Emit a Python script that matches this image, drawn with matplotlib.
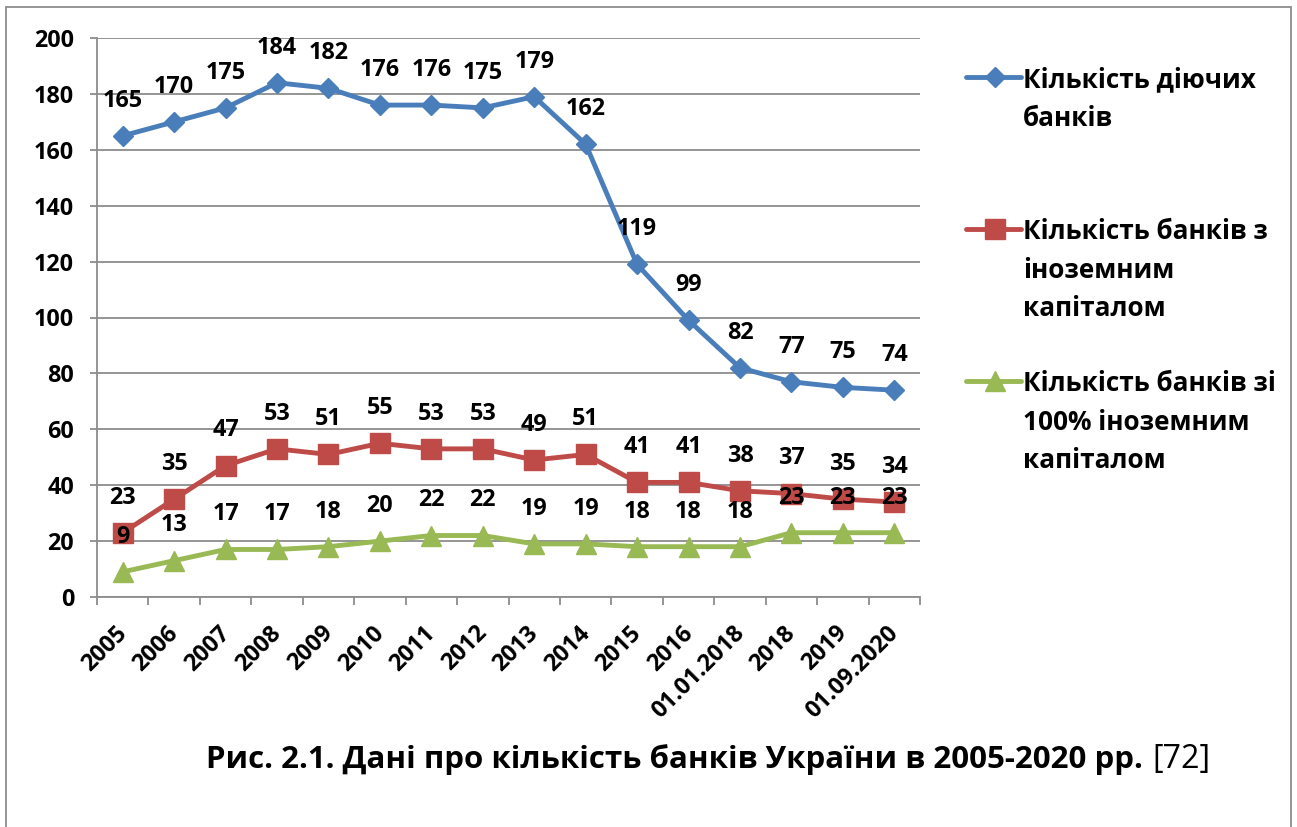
import matplotlib
matplotlib.use("Agg")
import matplotlib.pyplot as plt
from matplotlib.patches import Rectangle
from matplotlib.lines import Line2D
from matplotlib.transforms import ScaledTranslation
import numpy as np

plt.rcParams['font.family'] = ['Open Sans', 'DejaVu Sans']

categories = ["2005", "2006", "2007", "2008", "2009", "2010", "2011", "2012",
              "2013", "2014", "2015", "2016", "01.01.2018", "2018", "2019", "01.09.2020"]
active_banks = [165, 170, 175, 184, 182, 176, 176, 175, 179, 162, 119, 99, 82, 77, 75, 74]
foreign_banks = [23, 35, 47, 53, 51, 55, 53, 53, 49, 51, 41, 41, 38, 37, 35, 34]
full_foreign_banks = [9, 13, 17, 17, 18, 20, 22, 22, 19, 19, 18, 18, 18, 23, 23, 23]
series_names = ["Кількість діючих\nбанків",
                "Кількість банків з\nіноземним\nкапіталом",
                "Кількість банків зі\n100% іноземним\nкапіталом"]
y_ticks = [0, 20, 40, 60, 80, 100, 120, 140, 160, 180, 200]
caption = "Рис. 2.1. Дані про кількість банків України в 2005-2020 рр."
caption_ref = "[72]"

colors = ["#4A7EBB", "#BE4B48", "#98B954"]
markers = ["D", "s", "^"]
msizes = [10, 14, 14]
LW = 3.5

W, H = 1297, 827
fig = plt.figure(figsize=(W / 100, H / 100), dpi=100)
fig.patch.set_facecolor("white")
renderer = fig.canvas.get_renderer()


def fit_size(s, target_px, weight="bold", base=20.0):
    t = fig.text(0, 0, s, fontsize=base, fontweight=weight)
    w = t.get_window_extent(renderer).width
    t.remove()
    return base * target_px / w


num_fs = fit_size("200", 40)
leg_fs = fit_size("Кількість діючих", 232)
cap_fs = fit_size(caption, 934)
ref_fs = fit_size(caption_ref, 58, weight="normal")

# outer frame
fig.add_artist(Rectangle((6 / W, -0.05), (1291 - 6) / W, 1.05 - 7 / H,
                         transform=fig.transFigure, fill=False,
                         edgecolor="#8c8c8c", linewidth=1.3))

ax = fig.add_axes([97 / W, 1 - 597 / H, (920 - 97) / W, (597 - 38) / H])
x = np.arange(len(categories))
all_series = [active_banks, foreign_banks, full_foreign_banks]
for vals, c, m, ms in zip(all_series, colors, markers, msizes):
    ax.plot(x, vals, color=c, linewidth=LW, marker=m, markersize=ms,
            markerfacecolor=c, markeredgecolor=c, zorder=3)
for vals in all_series:
    for xi, v in zip(x, vals):
        ax.annotate(str(v), (xi, v), xytext=(0, 21), textcoords="offset points",
                    ha="center", va="baseline", fontsize=num_fs, fontweight="bold",
                    color="black", zorder=5)

ax.set_xlim(-0.5, len(categories) - 0.5)
ax.set_ylim(0, 200)
ax.set_yticks(y_ticks)
ax.set_yticklabels([str(t) for t in y_ticks], fontsize=num_fs, fontweight="bold")
ax.set_xticks(x)
ax.set_xticklabels(categories, rotation=45, ha="right", va="baseline",
                   rotation_mode="anchor", fontsize=num_fs, fontweight="bold")
cap_h = 0.714 * num_fs * 100 / 72
target_y = 622 + 0.707 * cap_h
ax.set_xticks(np.arange(-0.5, len(categories), 1.0), minor=True)
ax.tick_params(axis="x", which="major", length=0, pad=(target_y - 597) * 0.72)
ax.tick_params(axis="x", which="minor", length=6, color="#8c8c8c", width=1.3)
ax.tick_params(axis="y", length=5, color="#8c8c8c", width=1.3, pad=11.5)
for lab in ax.get_xticklabels():
    lab.set_transform(lab.get_transform() + ScaledTranslation(5 / 100, 0, fig.dpi_scale_trans))
ax.grid(axis="y", color="#8c8c8c", linewidth=1.3)
ax.set_axisbelow(True)
for s in ["top", "right"]:
    ax.spines[s].set_visible(False)
for s in ["left", "bottom"]:
    ax.spines[s].set_color("#8c8c8c")
    ax.spines[s].set_linewidth(1.3)

# legend drawn manually in a dedicated axes (pixel coordinates)
lax = fig.add_axes([0, 0, 1, 1])
lax.set_xlim(0, W)
lax.set_ylim(H, 0)
lax.axis("off")
leg_y = [77, 229, 381]
for name, c, m, ms, yy in zip(series_names, colors, markers, msizes, leg_y):
    lax.add_line(Line2D([966, 1021], [yy, yy], color=c, linewidth=LW,
                        solid_capstyle="round"))
    lax.add_line(Line2D([995], [yy], color=c, marker=m, markersize=ms,
                        markerfacecolor=c, markeredgecolor=c))
    for i, line in enumerate(name.split("\n")):
        lax.text(1023, yy + 10 + i * 38.5, line, ha="left", va="baseline",
                 fontsize=leg_fs, fontweight="bold")

lax.text(206, 768, caption, ha="left", va="baseline", fontsize=cap_fs,
         fontweight="bold")
lax.text(1152, 768, caption_ref, ha="left", va="baseline", fontsize=ref_fs,
         fontweight="normal")

fig.savefig("out.png", dpi=100, facecolor="white")
